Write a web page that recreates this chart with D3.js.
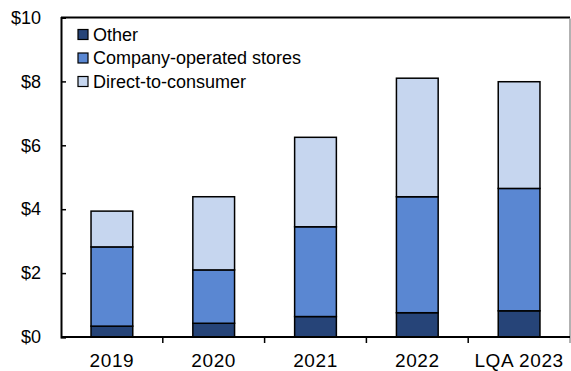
<!DOCTYPE html>
<html>
<head>
<meta charset="utf-8">
<script src="https://cdn.jsdelivr.net/npm/d3@7"></script>
<style>
  body { margin: 0; background: #fff; }
  text { font-family: Arial, "Liberation Sans", sans-serif; fill: #000; }
</style>
</head>
<body>
<svg width="571" height="371"></svg>
<script>
const years = ["2019", "2020", "2021", "2022", "LQA 2023"];
const other = [0.34, 0.43, 0.64, 0.76, 0.82];
const companyStores = [2.48, 1.67, 2.81, 3.63, 3.83];
const directToConsumer = [1.12, 2.29, 2.80, 3.71, 3.34];
const seriesNames = ["Other", "Company-operated stores", "Direct-to-consumer"];
const colors = ["#264478", "#5A87D2", "#C6D6EF"];
const yTicks = [0, 2, 4, 6, 8, 10];

const svg = d3.select("svg");
const margin = { top: 17.5, right: 1, bottom: 34, left: 61 };
const width = 571, height = 371;

const data = years.map((y, i) => ({
  year: y,
  other: other[i],
  company: companyStores[i],
  dtc: directToConsumer[i],
}));
const keys = ["other", "company", "dtc"];
const stacked = d3.stack().keys(keys)(data);

const x = d3
  .scaleBand()
  .domain(years)
  .range([margin.left, width - margin.right])
  .paddingInner(0.59)
  .paddingOuter(0.295);

const y = d3
  .scaleLinear()
  .domain([0, 10])
  .range([height - margin.bottom, margin.top]);

// frame: top black line, right grey line
svg
  .append("line")
  .attr("x1", margin.left)
  .attr("x2", 570)
  .attr("y1", y(10))
  .attr("y2", y(10))
  .attr("stroke", "#000")
  .attr("stroke-width", 2);
svg
  .append("line")
  .attr("x1", 570)
  .attr("x2", 570)
  .attr("y1", y(10) + 1)
  .attr("y2", 343)
  .attr("stroke", "#999")
  .attr("stroke-width", 1.5);

// bars
svg
  .append("g")
  .selectAll("g")
  .data(stacked)
  .join("g")
  .attr("fill", (d, i) => colors[i])
  .selectAll("rect")
  .data((d) => d)
  .join("rect")
  .attr("x", (d) => x(d.data.year))
  .attr("y", (d) => y(d[1]))
  .attr("width", x.bandwidth())
  .attr("height", (d) => y(d[0]) - y(d[1]))
  .attr("stroke", "#000")
  .attr("stroke-width", 1.5);

// y axis
const yAxis = svg
  .append("g")
  .attr("transform", `translate(${margin.left},0)`)
  .call(
    d3
      .axisLeft(y)
      .tickValues(yTicks)
      .tickSize(-5)
      .tickPadding(20)
      .tickFormat((d) => "$" + d)
  );
yAxis.select(".domain").attr("stroke", "#000").attr("stroke-width", 2);
yAxis.selectAll(".tick line").attr("stroke", "#000").attr("stroke-width", 1.5);
yAxis.selectAll("text").attr("font-size", 18).attr("fill", "#000");
yAxis.select(".tick:last-of-type line").remove();

// x axis
const xAxis = svg
  .append("g")
  .attr("transform", `translate(0,${y(0)})`)
  .call(d3.axisBottom(x).tickSize(0).tickPadding(17));
xAxis.select(".domain").remove();
xAxis
  .selectAll("text")
  .attr("font-size", 19)
  .attr("letter-spacing", 0.6)
  .attr("fill", "#000");
svg
  .append("line")
  .attr("x1", margin.left)
  .attr("x2", 570)
  .attr("y1", y(0))
  .attr("y2", y(0))
  .attr("stroke", "#000")
  .attr("stroke-width", 2);

// category separators
const step = x.step();
svg
  .append("g")
  .selectAll("line")
  .data(years.slice(0, -1))
  .join("line")
  .attr("x1", (d) => x(d) - x.paddingOuter() * step + step)
  .attr("x2", (d) => x(d) - x.paddingOuter() * step + step)
  .attr("y1", y(0))
  .attr("y2", y(0) + 6)
  .attr("stroke", "#000")
  .attr("stroke-width", 1.5);

// legend
const legend = svg
  .append("g")
  .selectAll("g")
  .data(seriesNames)
  .join("g")
  .attr("transform", (d, i) => `translate(78,${34.5 + i * 23.5})`);
legend
  .append("rect")
  .attr("x", 0)
  .attr("y", -5)
  .attr("width", 10)
  .attr("height", 10)
  .attr("fill", (d, i) => colors[i])
  .attr("stroke", "#000")
  .attr("stroke-width", 1.2);
legend
  .append("text")
  .attr("x", 15)
  .attr("dy", "0.36em")
  .attr("font-size", 18)
  .text((d) => d);
</script>
</body>
</html>
